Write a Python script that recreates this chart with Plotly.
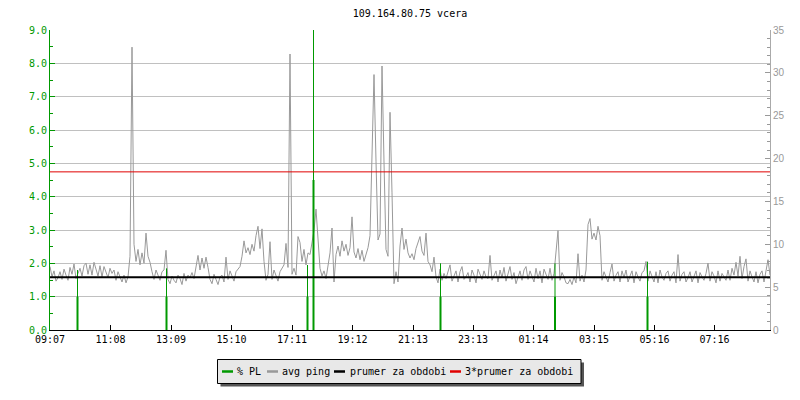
import datetime as dt
import plotly.graph_objects as go

# ---------------- data ----------------
title_text = "109.164.80.75 vcera"
start_time = dt.datetime(2024, 5, 14, 9, 7)
period_hours = 24
ping_step_min = 4

# avg ping [ms], one value every 4 minutes starting 09:07
ping_ms = [
    7.4, 6.2, 6.9, 5.7, 6.1, 6.8, 5.9, 7.1, 6.4, 5.8, 7.3, 6.5, 7.7, 6.0, 6.6, 7.2, 6.3, 7.5, 7.8, 6.5,
    7.6, 6.4, 7.9, 7.0, 6.3, 7.5, 6.2, 7.4, 6.8, 6.1, 7.2, 6.6, 7.0, 5.8, 6.8, 6.3, 5.6, 6.4, 5.5, 6.2,
    8.6, 33.0, 10.0, 8.0, 9.4, 7.6, 9.0, 7.8, 11.3, 8.6, 7.9, 6.8, 5.9, 7.0, 6.4, 5.8, 6.8, 7.0, 9.3, 5.9,
    5.4, 6.3, 5.8, 5.5, 6.4, 6.0, 5.3, 6.6, 5.7, 6.4, 6.1, 6.7, 6.0, 7.6, 8.7, 7.0, 8.4, 7.2, 8.5, 7.3,
    5.9, 5.4, 6.5, 5.9, 5.3, 6.2, 6.4, 5.6, 8.5, 5.9, 6.9, 6.3, 5.7, 6.8, 7.1, 7.4, 8.6, 10.4, 9.0, 9.6,
    8.8, 10.0, 9.2, 11.0, 12.1, 9.5, 11.8, 8.0, 5.8, 6.5, 10.3, 5.9, 7.0, 6.4, 5.7, 6.8, 7.2, 7.6, 10.1, 7.3,
    32.2, 6.5, 7.2, 6.4, 10.9, 10.2, 8.0, 9.4, 7.6, 9.0, 8.8, 10.1, 11.6, 14.1, 11.0, 7.2, 6.3, 6.9, 6.0, 7.6,
    9.0, 11.9, 5.6, 8.8, 9.8, 8.6, 10.4, 9.2, 10.0, 8.7, 9.6, 13.2, 9.1, 8.4, 9.5, 8.2, 9.3, 8.0, 8.9, 9.6,
    11.0, 19.8, 29.8, 19.7, 10.5, 11.2, 30.8, 19.6, 9.4, 8.6, 25.4, 16.0, 5.4, 6.8, 5.6, 9.8, 11.9, 9.4, 10.6, 9.0,
    8.4, 8.9, 8.2, 9.5, 10.1, 10.9, 9.2, 8.7, 11.3, 8.0, 7.6, 6.8, 8.5, 6.2, 5.5, 7.1, 5.8, 6.6, 6.0, 6.9,
    7.6, 5.7, 6.3, 6.9, 5.6, 6.8, 7.4, 5.9, 6.2, 6.7, 5.6, 7.0, 6.4, 5.5, 7.1, 6.6, 5.9, 6.9, 6.2, 6.0,
    8.7, 5.8, 6.4, 6.9, 5.6, 7.0, 6.1, 7.3, 5.7, 6.5, 7.4, 5.9, 6.7, 5.4, 6.2, 6.9, 5.8, 7.0, 7.4, 5.9,
    6.9, 6.3, 5.6, 7.2, 6.0, 6.9, 5.5, 7.1, 6.4, 5.9, 7.2, 5.8, 6.6, 9.1, 11.6, 5.8, 6.7, 6.2, 5.5, 5.4,
    5.9, 5.3, 6.2, 5.5, 8.9, 5.7, 6.4, 5.6, 7.0, 12.3, 13.0, 10.6, 11.3, 10.5, 12.1, 11.0, 5.8, 6.8, 6.2, 5.6,
    6.7, 7.7, 5.7, 6.4, 6.8, 5.6, 6.9, 6.1, 7.0, 5.6, 6.3, 6.9, 5.5, 6.8, 6.2, 5.7, 6.7, 6.9, 8.0, 5.7,
    6.9, 6.3, 5.6, 6.8, 5.5, 7.0, 6.2, 5.8, 6.6, 6.9, 5.7, 6.4, 6.8, 5.5, 8.8, 5.7, 6.5, 6.8, 5.6, 6.1,
    6.8, 5.6, 6.3, 6.9, 5.5, 6.7, 6.2, 5.8, 6.6, 7.8, 5.7, 6.8, 6.3, 5.5, 6.9, 5.7, 6.6, 6.1, 5.8, 7.0,
    5.8, 7.2, 6.4, 7.9, 6.3, 8.6, 6.0, 7.4, 8.3, 5.7, 6.9, 6.2, 5.6, 6.8, 5.5, 6.5, 6.9, 5.6, 6.8, 8.2, 6.4,
]

# packet loss events [%]
pl_times = ["10:02", "13:00", "17:42", "17:54", "22:08", "01:57", "05:02"]
pl_pct = [1.0, 1.0, 1.0, 4.5, 1.0, 1.0, 1.0]
pl_peak = [1.8, 1.85, 1.95, 9.0, 2.0, 2.0, 2.05]

prumer_ms = 6.15  # average ping over the period

tick_labels = ["09:07", "11:08", "13:09", "15:10", "17:11", "19:12",
               "21:13", "23:13", "01:14", "03:15", "05:16", "07:16"]

legend_labels = ["% PL", "avg ping", "prumer za obdobi", "3*prumer za obdobi"]

# ---------------- styles ----------------
GREEN = "#009900"
GREY = "#999999"
RED = "#e00000"
MONO = "DejaVu Sans Mono"

end_time = start_time + dt.timedelta(hours=period_hours)


def hhmm_to_dt(s):
    h, m = map(int, s.split(":"))
    t = start_time.replace(hour=h, minute=m)
    if t < start_time:
        t += dt.timedelta(days=1)
    return t


ping_times = [start_time + dt.timedelta(minutes=ping_step_min * i) for i in range(len(ping_ms))]

fig = go.Figure()

# avg ping (base ms axis)
fig.add_trace(go.Scatter(x=ping_times, y=ping_ms, mode="lines", yaxis="y",
                         line=dict(color=GREY, width=1), name="avg ping"))

# packet loss spikes (left % axis, overlaid above ping)
thin_x, thin_y, thick_x, thick_y = [], [], [], []
for t, v, pk in zip(pl_times, pl_pct, pl_peak):
    tt = hhmm_to_dt(t)
    thin_x += [tt, tt, None]
    thin_y += [0, pk, None]
    thick_x += [tt, tt, None]
    thick_y += [0, v, None]
fig.add_trace(go.Scatter(x=thin_x, y=thin_y, mode="lines", yaxis="y2",
                         line=dict(color=GREEN, width=1), name="% PL peak"))
fig.add_trace(go.Scatter(x=thick_x, y=thick_y, mode="lines", yaxis="y2",
                         line=dict(color=GREEN, width=2), name="% PL"))

# average lines (top ms axis)
fig.add_trace(go.Scatter(x=[start_time, end_time], y=[prumer_ms, prumer_ms], mode="lines",
                         yaxis="y3", line=dict(color="black", width=2), name="prumer za obdobi"))
fig.add_trace(go.Scatter(x=[start_time, end_time], y=[3 * prumer_ms, 3 * prumer_ms], mode="lines",
                         yaxis="y3", line=dict(color=RED, width=1), name="3*prumer za obdobi"))

# ---------------- layout ----------------
# the page body adds an 8px offset; page-space plot area is x 50..770, y 30..330
OFF = 8
L, R, T, B = 50 - OFF, 30, 30 - OFF, 70
W, H = 800 - OFF, 400 - OFF
PW, PH = W - L - R, H - T - B


def px(xp):  # page x -> paper
    return (xp - OFF - L) / PW


def py(yp):  # page y -> paper
    return (T + PH - (yp - OFF)) / PH


fig.update_layout(
    width=W, height=H,
    margin=dict(l=L, r=R, t=T, b=B, autoexpand=False),
    paper_bgcolor="white", plot_bgcolor="white",
    showlegend=False,
    title=dict(text=title_text, x=0.5, xref="paper", xanchor="center",
               y=1 - (13.5 - OFF) / H, yref="container", yanchor="middle", automargin=False,
               font=dict(family=MONO, size=10, color="black")),
    xaxis=dict(type="date", range=[start_time, end_time], automargin=False,
               tickmode="array", tickvals=[hhmm_to_dt(s) for s in tick_labels], ticktext=tick_labels,
               ticks="inside", ticklen=5, tickcolor="black",
               showline=True, linecolor="black", linewidth=1,
               showgrid=False, zeroline=False,
               tickfont=dict(family=MONO, size=10, color="black")),
    yaxis=dict(range=[0, 35], side="right", tick0=0, dtick=5, automargin=False,
               ticks="inside", ticklen=5, tickcolor="#999999",
               showline=True, linecolor="#aaaaaa", linewidth=1,
               showgrid=False, zeroline=False,
               tickfont=dict(family="Liberation Sans", size=10, color="#999999"),
               minor=dict(dtick=1, ticks="inside", ticklen=3, tickcolor="#999999", showgrid=False)),
    yaxis2=dict(range=[0, 9], overlaying="y", side="left", tick0=0, dtick=1, tickformat=".1f",
                automargin=False,
                ticks="inside", ticklen=5, tickcolor=GREEN,
                showline=True, linecolor=GREEN, linewidth=1,
                showgrid=True, gridcolor="#c0c0c0", gridwidth=1, zeroline=False,
                tickfont=dict(family=MONO, size=10, color=GREEN),
                minor=dict(dtick=0.5, ticks="inside", ticklen=3, tickcolor=GREEN, showgrid=False)),
    yaxis3=dict(range=[0, 35], overlaying="y", visible=False, automargin=False),
)

# ---------------- manual legend ----------------
box_l, box_r, box_t, box_b = 217.5, 581, 359.5, 383.5
shapes = [
    dict(type="rect", xref="paper", yref="paper",
         x0=px(box_l + 3), x1=px(box_r + 3), y0=py(box_t + 3), y1=py(box_b + 3),
         fillcolor="#555555", line=dict(width=0)),
    dict(type="rect", xref="paper", yref="paper",
         x0=px(box_l), x1=px(box_r), y0=py(box_t), y1=py(box_b),
         fillcolor="#e8e8e8", line=dict(color="black", width=1)),
]
legend_colors = [GREEN, GREY, "black", RED]
sample_x = [222, 267, 334, 450]
text_x = [235.5, 279.5, 347.5, 463.5]
row_y = 371.5
annotations = []
for lab, col, sx, tx in zip(legend_labels, legend_colors, sample_x, text_x):
    shapes.append(dict(type="line", xref="paper", yref="paper",
                       x0=px(sx), x1=px(sx + 11), y0=py(row_y), y1=py(row_y),
                       line=dict(color=col, width=2.5)))
    annotations.append(dict(text=lab, xref="paper", yref="paper", x=px(tx), y=py(row_y - 0.5),
                            xanchor="left", yanchor="middle", showarrow=False,
                            font=dict(family=MONO, size=10, color="black")))
fig.update_layout(shapes=shapes, annotations=annotations)

fig.write_html("out.html")
